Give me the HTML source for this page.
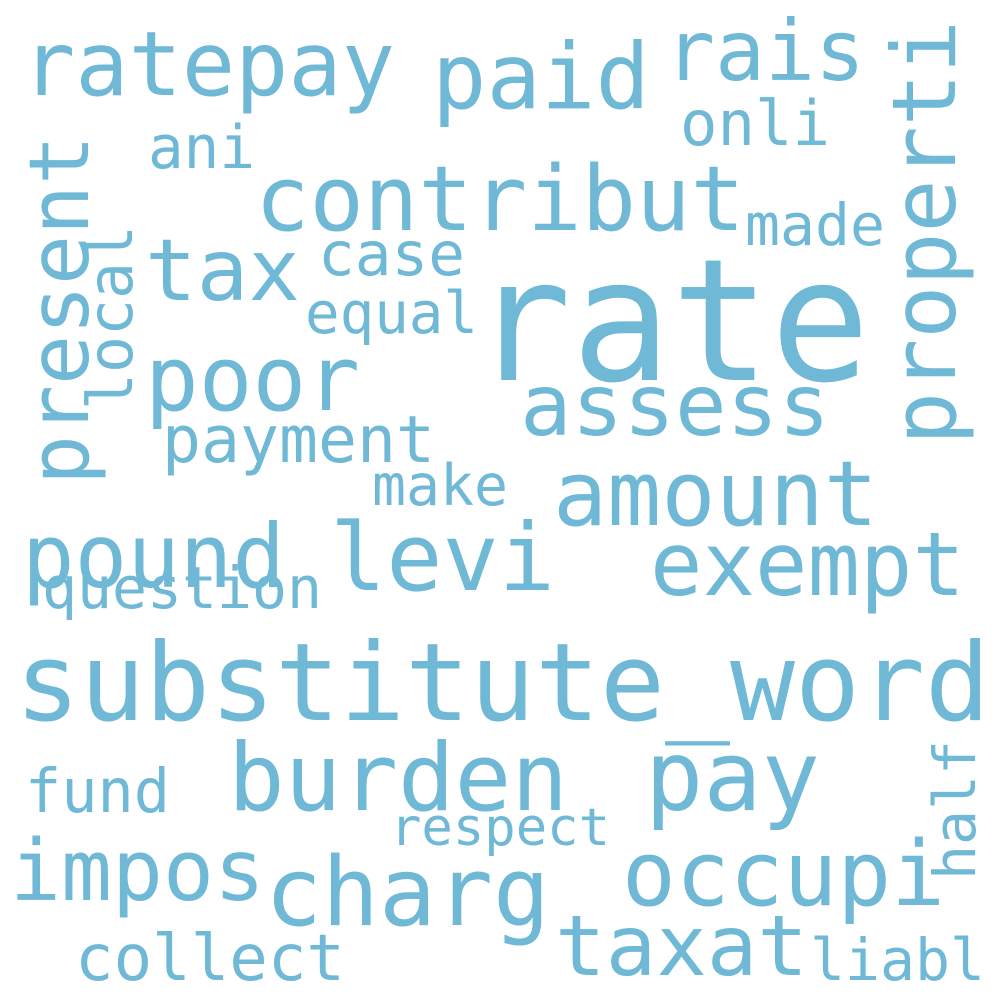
<!DOCTYPE html>
<html><head><meta charset="utf-8"><style>
html,body{margin:0;padding:0;background:#fff;width:1000px;height:1000px;overflow:hidden}
svg text{font-family:"DejaVu Sans Mono","Liberation Mono",monospace;fill:#6fb8d6}
</style></head><body>
<svg width="1000" height="1000" viewBox="0 0 1000 1000" xmlns="http://www.w3.org/2000/svg">
<rect width="1000" height="1000" fill="#fff"/>
<text x="472" y="380" font-size="170" textLength="398" lengthAdjust="spacingAndGlyphs">rate</text>
<text x="15" y="720" font-size="108" textLength="975" lengthAdjust="spacingAndGlyphs">substitute_word</text>
<text x="22" y="95" font-size="89" textLength="373" lengthAdjust="spacingAndGlyphs">ratepay</text>
<text x="432" y="108" font-size="91" textLength="218" lengthAdjust="spacingAndGlyphs">paid</text>
<text x="665" y="80" font-size="84" textLength="200" lengthAdjust="spacingAndGlyphs">rais</text>
<text transform="translate(955,445) rotate(-90)" font-size="88" textLength="425" lengthAdjust="spacingAndGlyphs">properti</text>
<text x="680" y="145" font-size="62" textLength="150" lengthAdjust="spacingAndGlyphs">onli</text>
<text x="148" y="168" font-size="60" textLength="107" lengthAdjust="spacingAndGlyphs">ani</text>
<text transform="translate(88,485) rotate(-90)" font-size="83" textLength="350" lengthAdjust="spacingAndGlyphs">present</text>
<text x="255" y="230" font-size="90" textLength="490" lengthAdjust="spacingAndGlyphs">contribut</text>
<text x="745" y="245" font-size="58" textLength="140" lengthAdjust="spacingAndGlyphs">made</text>
<text x="145" y="300" font-size="86" textLength="155" lengthAdjust="spacingAndGlyphs">tax</text>
<text x="318" y="275" font-size="61" textLength="147" lengthAdjust="spacingAndGlyphs">case</text>
<text transform="translate(132,410) rotate(-90)" font-size="62" textLength="185" lengthAdjust="spacingAndGlyphs">local</text>
<text x="305" y="333" font-size="58" textLength="173" lengthAdjust="spacingAndGlyphs">equal</text>
<text x="145" y="410" font-size="90" textLength="215" lengthAdjust="spacingAndGlyphs">poor</text>
<text x="520" y="435" font-size="86" textLength="310" lengthAdjust="spacingAndGlyphs">assess</text>
<text x="162" y="462" font-size="65" textLength="273" lengthAdjust="spacingAndGlyphs">payment</text>
<text x="372" y="505" font-size="57" textLength="136" lengthAdjust="spacingAndGlyphs">make</text>
<text x="553" y="525" font-size="90" textLength="325" lengthAdjust="spacingAndGlyphs">amount</text>
<text x="22" y="587" font-size="88" textLength="263" lengthAdjust="spacingAndGlyphs">pound</text>
<text x="330" y="590" font-size="94" textLength="225" lengthAdjust="spacingAndGlyphs">levi</text>
<text x="650" y="595" font-size="88" textLength="315" lengthAdjust="spacingAndGlyphs">exempt</text>
<text x="42" y="608" font-size="58" textLength="280" lengthAdjust="spacingAndGlyphs">question</text>
<text x="228" y="810" font-size="94" textLength="340" lengthAdjust="spacingAndGlyphs">burden</text>
<text x="645" y="810" font-size="97" textLength="175" lengthAdjust="spacingAndGlyphs">pay</text>
<text transform="translate(975,880) rotate(-90)" font-size="58" textLength="140" lengthAdjust="spacingAndGlyphs">half</text>
<text x="25" y="812" font-size="61" textLength="145" lengthAdjust="spacingAndGlyphs">fund</text>
<text x="390" y="845" font-size="52" textLength="220" lengthAdjust="spacingAndGlyphs">respect</text>
<text x="10" y="900" font-size="85" textLength="255" lengthAdjust="spacingAndGlyphs">impos</text>
<text x="265" y="925" font-size="95" textLength="285" lengthAdjust="spacingAndGlyphs">charg</text>
<text x="622" y="905" font-size="90" textLength="323" lengthAdjust="spacingAndGlyphs">occupi</text>
<text x="555" y="975" font-size="84" textLength="253" lengthAdjust="spacingAndGlyphs">taxat</text>
<text x="75" y="980" font-size="64" textLength="270" lengthAdjust="spacingAndGlyphs">collect</text>
<text x="810" y="980" font-size="58" textLength="175" lengthAdjust="spacingAndGlyphs">liabl</text>
</svg>
</body></html>
